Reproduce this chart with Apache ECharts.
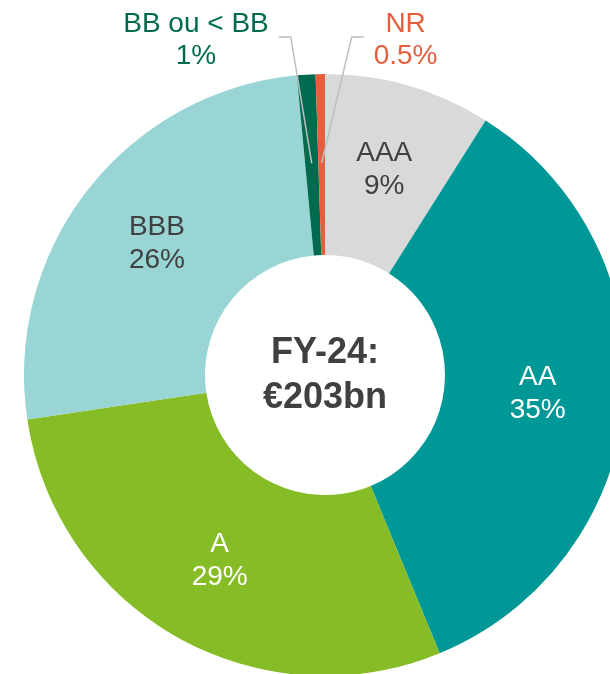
<!DOCTYPE html>
<html>
<head>
<meta charset="utf-8">
<script src="https://cdn.jsdelivr.net/npm/echarts@6/dist/echarts.min.js"></script>
<style>
html,body{margin:0;padding:0;background:#fff;}
#chart{width:610px;height:674px;}
</style>
</head>
<body>
<div id="chart"></div>
<script>
// notation, part du portefeuille (%)
var categories = ['AAA', 'AA', 'A', 'BBB', 'BB ou < BB', 'NR'];
var values = [9, 35, 29, 26, 1, 0.5];
var centerText = ['FY-24:', '€203bn'];

var colors = ['#D9D9D9', '#009797', '#86BC25', '#9AD5D5', '#006A4E', '#E35F3D'];
var labelColors = ['#404040', '#FFFFFF', '#FFFFFF', '#404040', '#006A4E', '#E35F3D'];
var outside = [false, false, false, false, true, true];

var CX = 325, CY = 375, R0 = 120, R = 301;
var FONT = 'Liberation Sans, Arial, sans-serif';

var donut = {
	init: function () {
		var self = this;
		var chart = echarts.init(document.getElementById('chart'));
		var data = [], dataTop = [];
		$each(categories, function (i, name) {
			data.push({
				name: name,
				value: values[i],
				itemStyle: { color: colors[i] },
				label: { show: !outside[i], color: labelColors[i] }
			});
			// meme serie, transparente, au-dessus : seulement les libelles exterieurs
			dataTop.push({
				name: name,
				value: values[i],
				label: { show: outside[i], color: labelColors[i] },
				labelLine: { show: outside[i] }
			});
		});
		var option = {
			animation: false,
			series: [{
				type: 'pie',
				center: [CX, CY],
				radius: [R0, R],
				startAngle: 90,
				avoidLabelOverlap: false,
				label: {
					position: 'inside',
					formatter: '{b}\n{c}%',
					fontFamily: FONT,
					fontSize: 28,
					lineHeight: 33
				},
				data: data
			}, {
				type: 'pie',
				z: 5,
				silent: true,
				center: [CX, CY],
				radius: [R0, R],
				startAngle: 90,
				avoidLabelOverlap: false,
				itemStyle: { color: 'rgba(0,0,0,0)' },
				label: {
					position: 'outside',
					formatter: '{b}\n{c}%',
					fontFamily: FONT,
					fontSize: 28,
					lineHeight: 32
				},
				labelLine: {
					length: 20,
					length2: 12,
					lineStyle: { color: '#BFBFBF', width: 1.5 }
				},
				labelLayout: self.outsideLabel,
				data: dataTop
			}],
			graphic: [{
				type: 'text',
				x: CX,
				y: 376,
				style: {
					text: centerText.join('\n'),
					fill: '#404040',
					font: 'bold 36px "Liberation Sans", Arial, sans-serif',
					lineHeight: 45,
					align: 'center',
					verticalAlign: 'middle'
				}
			}]
		};
		chart.setOption(option, true);
	},
	// la ligne part du milieu de l'anneau et le libelle remonte en haut
	outsideLabel: function (p) {
		var i = p.dataIndex;
		if (!outside[i] || !p.labelLinePoints) return {};
		var a = p.labelLinePoints[0];
		var k = 212 / R;
		var sx = CX + (a[0] - CX) * k, sy = CY + (a[1] - CY) * k;
		var dir = categories[i] === 'NR' ? 1 : -1;
		var ly = 37;
		var bx = sx + dir * (dir > 0 ? 30 : 21);
		var ex = bx + dir * 12;
		return {
			x: ex + dir * (10 + p.labelRect.width / 2),
			y: 40,
			align: 'center',
			verticalAlign: 'middle',
			labelLinePoints: [[sx, sy], [bx, ly], [ex, ly]]
		};
	}
};

function $each(arr, fn) {
	for (var i = 0; i < arr.length; i++) fn(i, arr[i]);
}

donut.init();
</script>
</body>
</html>
